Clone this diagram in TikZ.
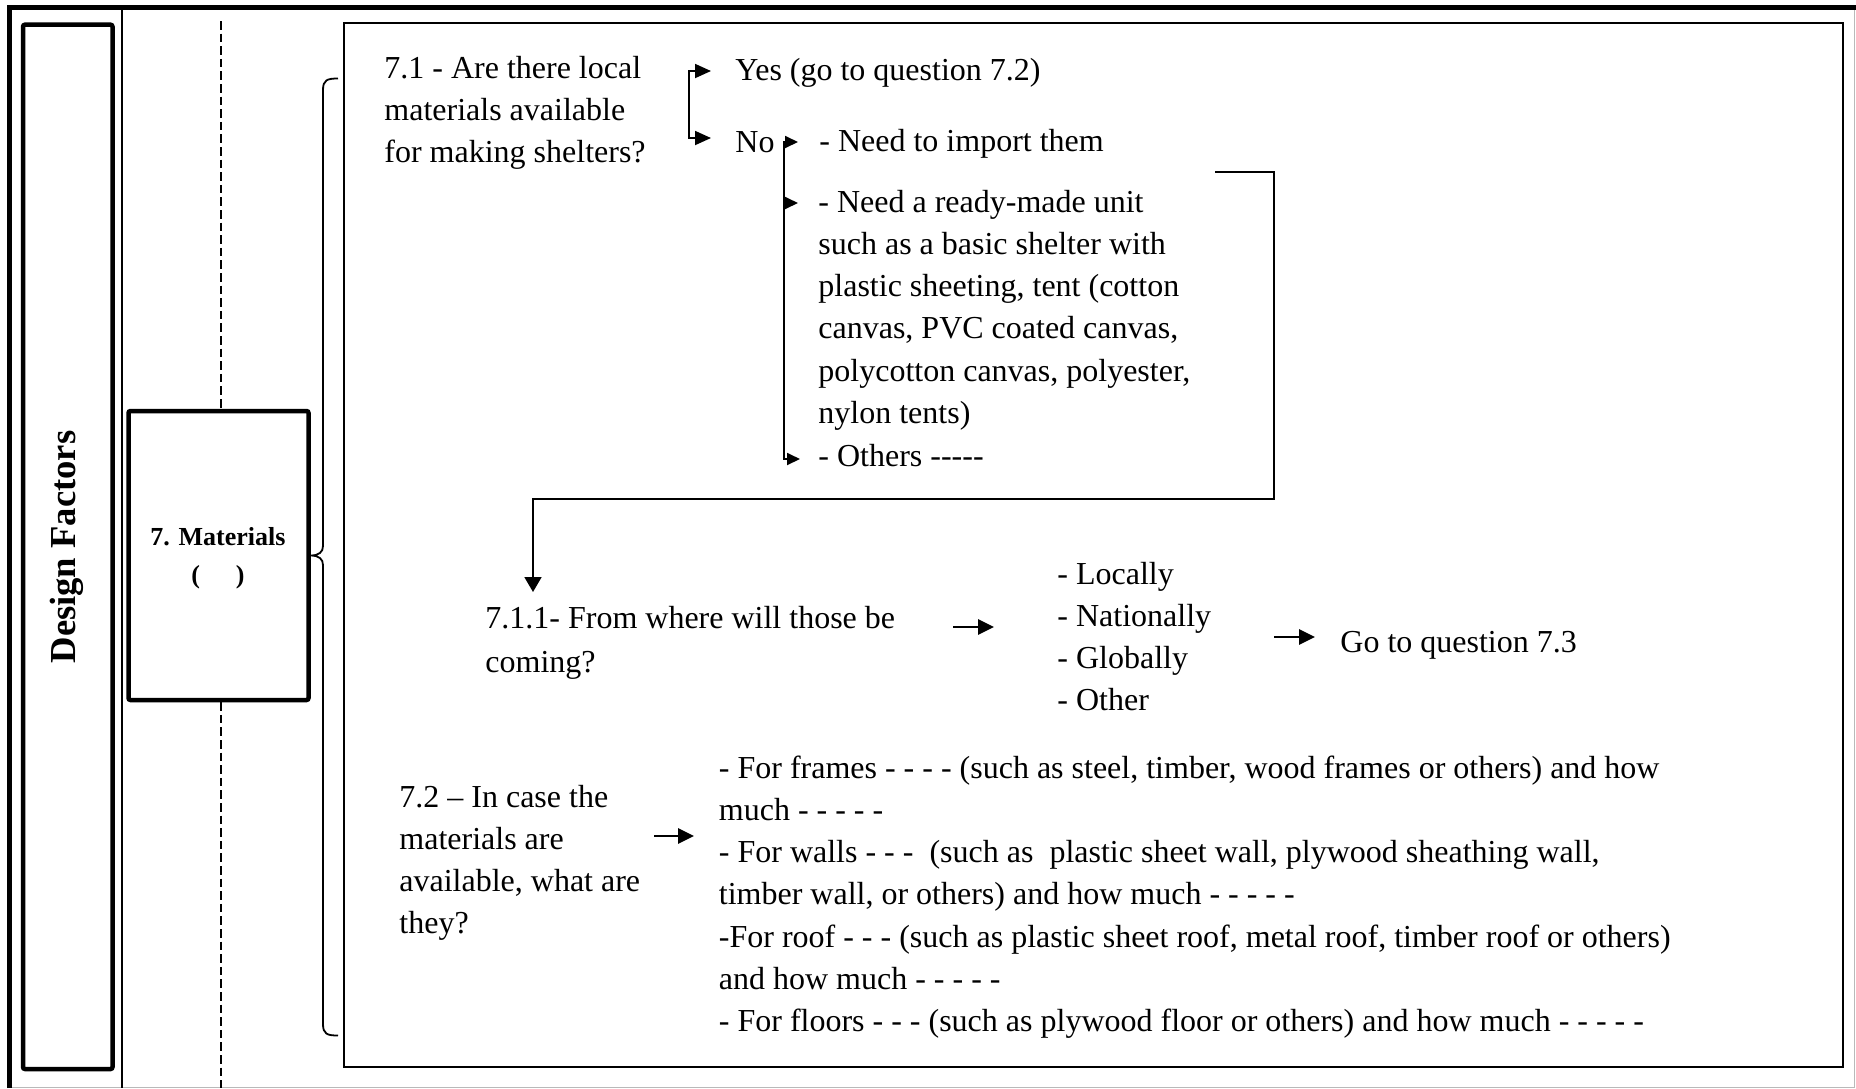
\documentclass[tikz,border=0pt]{standalone}
\usepackage{fontspec}
\setmainfont{Liberation Serif}
\usetikzlibrary{arrows.meta}
% stacked left-aligned lines whose baseline is the first line
\newcommand{\rows}[1]{\begin{tabular}[t]{@{}l@{}}#1\end{tabular}}

\begin{document}
\begin{tikzpicture}[x=0.5pt,y=-0.5pt,
  body/.style={inner sep=0pt, anchor=base west, font=\fontsize{16}{21.15}\selectfont},
  thickbox/.style={draw, line width=2.25pt, rounded corners=1pt, inner sep=0pt},
  link/.style={line width=0.9pt},
  smalltip/.style={line width=0.9pt, -{Triangle[length=6.5pt,width=6pt]}},
  smalltips/.style={line width=0.9pt, {Triangle[length=6.5pt,width=6pt]}-{Triangle[length=6.5pt,width=6pt]}},
  forktips/.style={line width=0.9pt, {Triangle[length=8pt,width=7pt]}-{Triangle[length=8pt,width=7pt]}},
  bigtip/.style={line width=0.9pt, -{Triangle[length=7.5pt,width=8.5pt]}},
  fat/.style={line width=1.35pt, -{Triangle[length=8pt,width=7.5pt]}},
  guide/.style={line width=1pt, dash pattern=on 4.3pt off 2pt},
]
\useasboundingbox (0,0) rectangle (1856,1088);

% page frame
\draw[gray!55, line width=0.5pt] (9.5,7.5) rectangle (1854.5,1087);
\draw[line width=2.5pt] (9.5,1088) -- (9.5,7.5) -- (1856,7.5);
\draw[line width=1pt] (122,10) -- (122,1088);

% left column: category box
\node[thickbox, minimum width=44.75pt, minimum height=522.15pt] (df) at (67.75,546.85) {};
\node[rotate=90, inner sep=0pt, font=\bfseries\fontsize{18.3}{22}\selectfont] (dflabel) at (67,547) {Design Factors};

% factor box
\node[thickbox, minimum width=90pt, minimum height=144.5pt] (mat) at (218.5,555.5) {};
\node[inner sep=0pt, anchor=base, font=\bfseries\fontsize{13}{16}\selectfont] (matlabel) at (218,545.7) {7. Materials};
\node[inner sep=0pt, anchor=base, font=\bfseries\fontsize{13}{16}\selectfont] (matparen) at (218,583) {(\hspace{18pt})};

% dashed guide through the factor box
\coordinate (dtop) at (221,21);
\coordinate (dbot) at (221,1088);
\draw[guide] (dtop) -- (dtop |- mat.north);
\draw[guide] (dbot |- mat.south) -- (dbot);

% question panel
\node[draw, line width=1pt, inner sep=0pt, minimum width=749.5pt, minimum height=522pt] (panel) at (1093.5,545) {};

% brace from the factor box to the panel
\coordinate (btop) at (338,78.5);
\coordinate (bbot) at (338,1035.5);
\coordinate (bknee) at (319,0);
\draw[link] (btop) .. controls (327,78.5) and (323,80) .. (323,90)
  -- (323,546) .. controls (323,552) and (bknee |- mat.east) .. (mat.east)
  .. controls (bknee |- mat.east) and (323,559) .. (323,565)
  -- (323,1024) .. controls (323,1034) and (327,1035.5) .. (bbot);

% question 7.1
\node[body] (q71) at (384,78) {\rows{7.1 - Are there local\\ materials available\\ for making shelters?}};
\node[body] (yes) at (735,80.5) {Yes (go to question 7.2)};
\node[body] (no) at (735,152) {No};
\node[body] (imp) at (819,151) {- Need to import them};
\node[body] (unit) at (818,212) {\rows{- Need a ready-made unit\\ such as a basic shelter with\\ plastic sheeting, tent (cotton\\ canvas, PVC coated canvas,\\ polycotton canvas, polyester,\\ nylon tents)}};
\node[body] (oth) at (818,466) {- Others -{}-{}-{}-{}-};

% yes / no fork
\coordinate (ytip) at (711,71);
\coordinate (ntip) at (711,138);
\coordinate (ynfork) at (689,104);
\draw[forktips] (ytip) -| (ynfork) |- (ntip);

% branches under "No"
\coordinate (n1tip) at (798,142);
\coordinate (n2tip) at (798,203);
\coordinate (n3tip) at (800,459);
\coordinate (nfork) at (784,300);
\coordinate (nmid) at (784,203);
\draw[smalltips] (n1tip) -| (nfork) |- (n3tip);
\draw[smalltip] (nmid) -- (n2tip);

% loop down to question 7.1.1
\coordinate (l1) at (1215,172);
\coordinate (l2) at (1274,499);
\coordinate (ltip) at (533,592);
\draw[bigtip] (l1) -| (l2) -| (ltip);

% question 7.1.1
\node[body] (q711) at (485,628) {\rows{7.1.1- From where will those be\\[1pt] coming?}};
\node[body] (src) at (1057,584) {\rows{- Locally\\ - Nationally\\ - Globally\\ - Other}};
\node[body] (go73) at (1340,652) {Go to question 7.3};
\coordinate (a1s) at (953,627);
\coordinate (a1e) at (994,627);
\coordinate (a2s) at (1274,637);
\coordinate (a2e) at (1315,637);
\draw[fat] (a1s) -- (a1e);
\draw[fat] (a2s) -- (a2e);

% question 7.2
\node[body] (q72) at (399,807) {\rows{7.2 – In case the\\ materials are\\ available, what are\\ they?}};
\node[body] (parts) at (718.5,778) {\rows{- For frames - - - - (such as steel, timber, wood frames or others) and how\\ much - - - - -\\ - For walls - - -~ (such as~ plastic sheet wall, plywood sheathing wall,\\ timber wall, or others) and how much - - - - -\\ -For roof - - - (such as plastic sheet roof, metal roof, timber roof or others)\\ and how much - - - - -\\ - For floors - - - (such as plywood floor or others) and how much - - - - -}};
\coordinate (a3s) at (654,836);
\coordinate (a3e) at (694,836);
\draw[fat] (a3s) -- (a3e);

\end{tikzpicture}
\end{document}
